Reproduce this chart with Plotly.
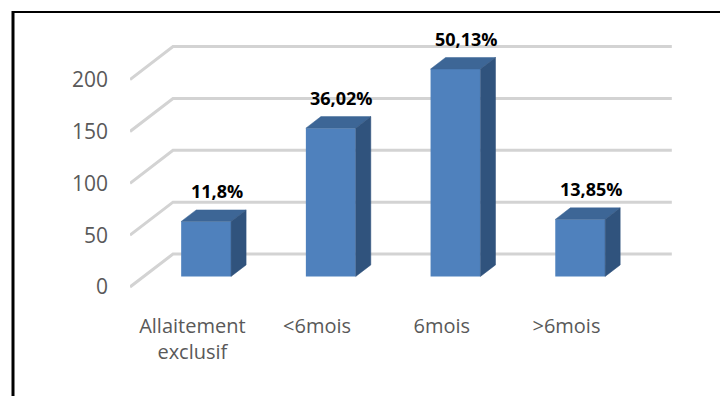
import plotly.graph_objects as go

# Data
categories = ["Allaitement<br>exclusif", "<6mois", "6mois", ">6mois"]
counts = [53, 143, 200, 55]
pct_labels = ["11,8%", "36,02%", "50,13%", "13,85%"]
y_ticks = [0, 50, 100, 150, 200]

# Pseudo-3D geometry (oblique projection)
W, H = 720, 396
L, R, T, B = 130, 690, 20, 300          # plot area in pixels
PX_PER_CAT = 124.7                       # pixels per category step
PX_PER_UNIT = 1.037                      # pixels per value unit
Y0_PX = 287                              # pixel row of value 0 on the front plane
DEPTH_PX_X, DEPTH_PX_Y = 43, 33          # full floor depth offset in pixels
DXc = DEPTH_PX_X / PX_PER_CAT            # depth offset in category units
DYv = DEPTH_PX_Y / PX_PER_UNIT           # depth offset in value units
D1, D2 = 0.32, 0.67                      # bar front/back depth fractions
BAR_W = 0.40

x_range = [-0.5, -0.5 + (R - L) / PX_PER_CAT]
y_range = [-(B - Y0_PX) / PX_PER_UNIT, (Y0_PX - T) / PX_PER_UNIT]

FRONT = "#4f81bd"
TOP = "#3d6696"
SIDE = "#30537d"
GRID = "#d3d3d3"

fig = go.Figure()

# Back wall and side wall gridlines
shapes = []
x_left, x_right = -0.5, len(categories) - 0.5
for v in y_ticks:
    path = (f"M {x_left},{v} L {x_left + DXc},{v + DYv} "
            f"L {x_right + DXc},{v + DYv}")
    shapes.append(dict(type="path", path=path, xref="x", yref="y",
                       line=dict(color=GRID, width=3), layer="below"))

# Bars: front faces
xs = list(range(len(categories)))
fig.add_trace(go.Bar(
    x=[c + D1 * DXc for c in xs], y=counts, base=D1 * DYv, width=BAR_W,
    marker=dict(color=FRONT, line=dict(width=0)), showlegend=False,
    hoverinfo="skip"))

# Bars: top and side faces
for c, v in zip(xs, counts):
    xl = c - BAR_W / 2
    xr = c + BAR_W / 2
    top_x = [xl + D1 * DXc, xr + D1 * DXc, xr + D2 * DXc, xl + D2 * DXc, xl + D1 * DXc]
    top_y = [v + D1 * DYv, v + D1 * DYv, v + D2 * DYv, v + D2 * DYv, v + D1 * DYv]
    fig.add_trace(go.Scatter(x=top_x, y=top_y, mode="lines", fill="toself",
                             fillcolor=TOP, line=dict(color=TOP, width=0.5),
                             showlegend=False, hoverinfo="skip"))
    side_x = [xr + D1 * DXc, xr + D2 * DXc, xr + D2 * DXc, xr + D1 * DXc, xr + D1 * DXc]
    side_y = [D1 * DYv, D2 * DYv, v + D2 * DYv, v + D1 * DYv, D1 * DYv]
    fig.add_trace(go.Scatter(x=side_x, y=side_y, mode="lines", fill="toself",
                             fillcolor=SIDE, line=dict(color=SIDE, width=0.5),
                             showlegend=False, hoverinfo="skip"))

# Percentage labels above bars
annotations = []
for c, v, t in zip(xs, counts, pct_labels):
    annotations.append(dict(x=c + 0.2, y=v, xref="x", yref="y", text=t,
                            showarrow=False, yshift=41,
                            font=dict(family="Open Sans", size=18, color="black",
                                      weight="bold")))

# Outer frame (left and top edges)
def xp(px):
    return (px - L) / (R - L)

def yp(py):
    return (B - py) / (B - T)

shapes.append(dict(type="line", xref="paper", yref="paper",
                   x0=xp(13), x1=xp(13), y0=yp(11), y1=yp(400),
                   line=dict(color="black", width=3)))
shapes.append(dict(type="line", xref="paper", yref="paper",
                   x0=xp(12), x1=xp(722), y0=yp(12), y1=yp(12),
                   line=dict(color="black", width=2)))

fig.update_layout(
    width=W, height=H,
    margin=dict(l=L, r=W - R, t=T, b=H - B),
    paper_bgcolor="white", plot_bgcolor="white",
    shapes=shapes, annotations=annotations,
    xaxis=dict(range=x_range, tickmode="array", tickvals=xs, ticktext=categories,
               showgrid=False, zeroline=False, showline=False, ticks="",
               ticklabelstandoff=12,
               tickfont=dict(family="Open Sans", size=20, color="#595959")),
    yaxis=dict(range=y_range, tickmode="array", tickvals=y_ticks,
               showgrid=False, zeroline=False, showline=False, ticks="",
               ticklabelstandoff=21,
               tickfont=dict(family="Open Sans", size=21, color="#595959")),
)

fig.write_html("out.html")
